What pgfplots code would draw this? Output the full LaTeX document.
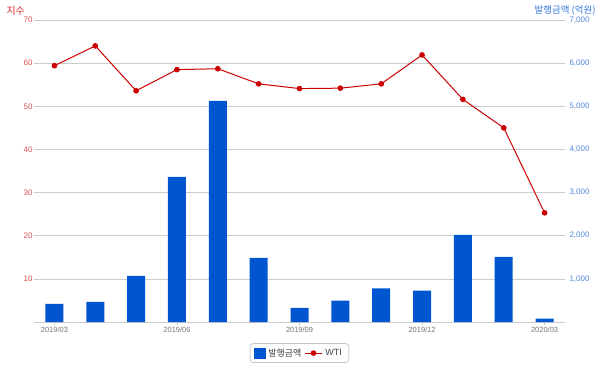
\documentclass[border=0pt]{standalone}
\usepackage{pgfplots}
\pgfplotsset{compat=1.18}
\usepackage{fontspec}
\setmainfont{Liberation Sans}
\newfontfamily\kr{Noto Sans CJK KR}
\definecolor{barblue}{HTML}{0055D0}
\definecolor{linered}{HTML}{CC0000}
\definecolor{ticklred}{HTML}{D85050}
\definecolor{ticklblue}{HTML}{5588DD}
\definecolor{gridgray}{HTML}{CCCCCC}
\begin{document}
\begin{tikzpicture}[x=1bp,y=1bp]
\useasboundingbox (0,0) rectangle (600,373);
\begin{axis}[
  at={(34bp,51bp)}, anchor=south west, scale only axis,
  width=531bp, height=302bp,
  xmin=-0.5, xmax=12.5, ymin=0, ymax=7000,
  axis x line*=bottom, axis y line*=right,
  x axis line style={draw=gridgray, line width=0.8pt},
  y axis line style={draw=none},
  xtick={0,3,6,9,12},
  xticklabels={2019/03,2019/06,2019/09,2019/12,2020/03},
  x tick label style={font=\fontsize{7.5}{8}\selectfont, text=gray!90!black, yshift=1bp},
  x tick style={draw=gridgray},
  tick align=outside, major tick length=3bp,
  ytick={1000,2000,3000,4000,5000,6000,7000},
  y tick style={draw=none},
  y tick label style={font=\fontsize{8}{9}\selectfont, text=ticklblue, xshift=-2bp},
  /pgf/number format/assume math mode=true,
  /pgf/number format/1000 sep={,},
  scaled y ticks=false,
  ymajorgrids, grid style={draw=gridgray, line width=0.6pt},
  clip=false,
]
\addplot[ybar, bar width=18bp, fill=barblue, draw=none] coordinates {
(0,418) (1,464) (2,1067) (3,3364) (4,5128) (5,1485) (6,325) (7,494) (8,780) (9,726) (10,2018) (11,1508) (12,77)};
\end{axis}
\begin{axis}[
  at={(34bp,51bp)}, anchor=south west, scale only axis,
  width=531bp, height=302bp,
  xmin=-0.5, xmax=12.5, ymin=0, ymax=70,
  axis x line=none, axis y line*=left,
  y axis line style={draw=none},
  ytick={10,20,30,40,50,60,70},
  y tick style={draw=none},
  y tick label style={font=\fontsize{8}{9}\selectfont, text=ticklred, xshift=2bp},
  /pgf/number format/assume math mode=true,
  clip=false,
  legend style={at={(0.5,-0.103)}, anchor=center, draw=gray!70, rounded corners=3bp,
    font=\fontsize{9}{11}\selectfont, text=black!75, inner xsep=4bp, inner ysep=3bp,
    nodes={inner xsep=3bp}},
  legend columns=2,
  legend cell align=left,
]
\addlegendimage{legend image code/.code={\fill[barblue, sharp corners] (2bp,-5bp) rectangle (13bp,5bp);}}
\addlegendentry{{\kr 발행금액}}
\addplot[linered, line width=1pt, mark=*, mark size=2.3bp, mark options={fill=linered, draw=linered}] coordinates {
(0,59.4) (1,64.0) (2,53.6) (3,58.5) (4,58.7) (5,55.2) (6,54.1) (7,54.2) (8,55.2) (9,61.9) (10,51.6) (11,45.0) (12,25.3)};
\addlegendentry{WTI}
\end{axis}
\node[anchor=west, text=linered!85!white, font=\kr\fontsize{10}{12}\selectfont] at (3,362) {지수};
\node[anchor=east, text=barblue!80!white, font=\kr\fontsize{9.5}{12}\selectfont] at (599,362) {발행금액 (억원)};
\end{tikzpicture}
\end{document}
